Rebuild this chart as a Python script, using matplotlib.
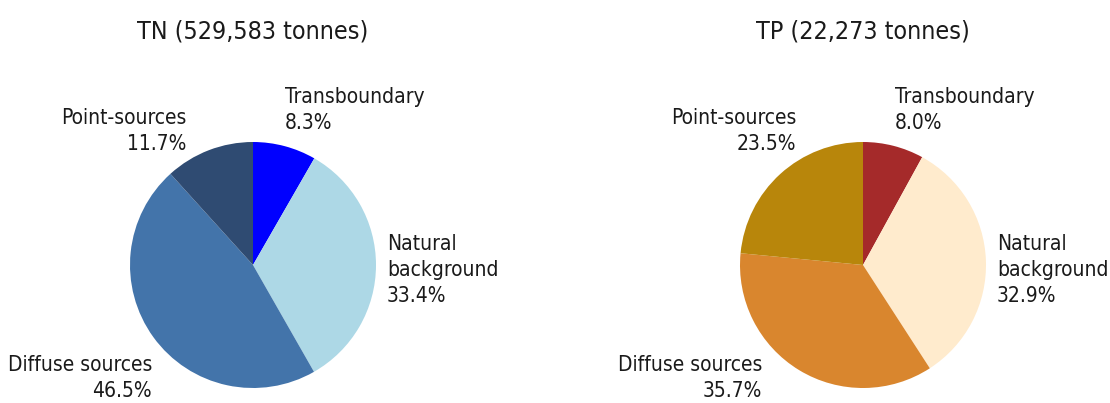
import matplotlib
matplotlib.use("Agg")
import matplotlib.pyplot as plt

# dados
categorias = ["Transboundary", "Natural\nbackground", "Diffuse sources", "Point-sources"]
tn_valores = [8.3, 33.4, 46.5, 11.7]
tp_valores = [8.0, 32.9, 35.7, 23.5]
tn_titulo = "TN (529,583 tonnes)"
tp_titulo = "TP (22,273 tonnes)"
tn_cores = ["#0000FF", "#ADD8E6", "#4374AA", "#2F4B72"]
tp_cores = ["#A52A2A", "#FFEBCD", "#D9862E", "#B8860B"]

# DejaVu Sans Condensed para imitar a fonte estreita
plt.rcParams["font.family"] = ["DejaVu Sans"]
plt.rcParams["font.stretch"] = "condensed"

# posicoes dos rotulos (em raios, relativo ao centro)
rot_pos = [(0.26, 1.26, "left"), (1.09, -0.04, "left"), (-0.82, -0.92, "right"), (-0.54, 1.09, "right")]

W, H, R = 1110, 403, 123.0
fig = plt.figure(figsize=(W / 100, H / 100), dpi=100)


def desenhar(left_px, width_px, cx_px, cy_px, valores, cores, titulo):
    ax = fig.add_axes([left_px / W, 0, width_px / W, 1])
    ax.pie(valores, colors=cores, startangle=90, counterclock=False, radius=1,
           wedgeprops={"linewidth": 0})
    for (x, y, ha), nome, v in zip(rot_pos, categorias, valores):
        ax.text(x, y, f"{nome}\n{v:.1f}%", ha=ha, va="center", fontsize=15,
                color="#1a1a1a", linespacing=1.35, fontstretch="condensed")
    ax.text(0, (cy_px - 32) / R, titulo, ha="center", va="center", fontsize=18,
            color="#1a1a1a", fontstretch="condensed")
    ax.set_xlim(-(cx_px - left_px) / R, (left_px + width_px - cx_px) / R)
    ax.set_ylim(-(H - cy_px) / R, cy_px / R)
    ax.set_aspect("auto")
    ax.axis("off")


desenhar(0, 555, 253, 265, tn_valores, tn_cores, tn_titulo)
desenhar(555, 555, 863, 265, tp_valores, tp_cores, tp_titulo)

fig.savefig("out.png", dpi=100, facecolor="white")
